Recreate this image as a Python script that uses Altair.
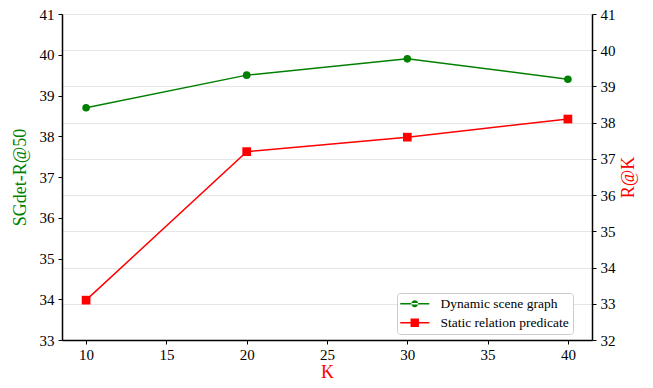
import altair as alt
import pandas as pd

K = [10, 20, 30, 40]
dynamic = [38.7, 39.5, 39.9, 39.4]
static = [33.1, 37.2, 37.6, 38.1]
series_names = ["Dynamic scene graph", "Static relation predicate"]
x_ticks = [10, 15, 20, 25, 30, 35, 40]
left_ticks = [33, 34, 35, 36, 37, 38, 39, 40, 41]
right_ticks = [32, 33, 34, 35, 36, 37, 38, 39, 40, 41]

GREEN = "#008000"
RED = "#ff0000"
FONT = "Liberation Serif"

W, H = 530, 326

df_dyn = pd.DataFrame({"K": K, "v": dynamic})
df_sta = pd.DataFrame({"K": K, "v": static})
df_leg = pd.DataFrame({"K": K[:2], "v": dynamic[:2], "series": series_names})

xenc = alt.X("K:Q", scale=alt.Scale(domain=[8.5, 41.5], nice=False, zero=False),
             axis=alt.Axis(values=x_ticks, title="K", titleColor=RED, titleFontSize=18,
                           titleFont=FONT, titleFontWeight="normal",
                           titleX=W / 2, titleY=37, titleBaseline="alphabetic",
                           labelFont=FONT, labelFontSize=15, labelColor="black",
                           tickColor="black", tickSize=4, domainColor="black",
                           domainWidth=1.5, grid=False, labelPadding=3))

yleft = alt.Y("v:Q", scale=alt.Scale(domain=[33, 41], nice=False, zero=False),
              axis=alt.Axis(values=left_ticks, orient="left", title="SGdet-R@50",
                            titleColor=GREEN, titleFontSize=18, titleFont=FONT,
                            titleFontWeight="normal", titleX=-42, titleY=H / 2,
                            titleBaseline="middle", titleAngle=270,
                            labelFont=FONT, labelFontSize=15, labelColor="black",
                            tickColor="black", tickSize=4, domainColor="black",
                            domainWidth=1.5, grid=False, labelPadding=4))

yright = alt.Y("v:Q", scale=alt.Scale(domain=[32, 41], nice=False, zero=False),
               axis=alt.Axis(values=right_ticks, orient="right", title="R@K",
                             titleColor=RED, titleFontSize=18, titleFont=FONT,
                             titleFontWeight="normal", titleX=36, titleY=H / 2,
                             titleBaseline="middle", titleAngle=270,
                             labelFont=FONT, labelFontSize=15, labelColor="black",
                             tickColor="black", tickSize=4, domainColor="black",
                             domainWidth=1.5, grid=True, gridColor="#e6e6e6",
                             gridWidth=1, labelPadding=4))

dyn_line = alt.Chart(df_dyn).mark_line(color=GREEN, strokeWidth=1.5).encode(x=xenc, y=yleft)
dyn_pts = alt.Chart(df_dyn).mark_point(color=GREEN, filled=True, opacity=1, size=58,
                                       shape="circle").encode(x=xenc, y=yleft)

unit = 6.5
def u(px):
    return round(px / unit, 3)
shift = u(7)
half = u(14.5)
th = u(0.75)
r = u(3.4)
sq = u(4.2)
line_path = f"M{shift - half},{-th}H{shift + half}V{th}H{shift - half}Z"
circle_path = (f"M{shift - r},0A{r},{r} 0 1,0 {shift + r},0"
               f"A{r},{r} 0 1,0 {shift - r},0Z")
square_path = f"M{shift - sq},{-sq}H{shift + sq}V{sq}H{shift - sq}Z"

legend_opts = dict(title=None, orient="none", legendX=335, legendY=279,
                   symbolOpacity=1, symbolStrokeWidth=0,
                   symbolSize=unit * unit * 4, labelFont=FONT,
                   labelFontSize=13.5, labelColor="black",
                   labelOffset=26, padding=4, rowPadding=4,
                   fillColor="white", strokeColor="#cccccc",
                   cornerRadius=3)

leg = alt.Chart(df_leg).mark_point(filled=True, opacity=0).encode(
    x=xenc, y=yleft,
    color=alt.Color("series:N", scale=alt.Scale(domain=series_names, range=[GREEN, RED]),
                    legend=alt.Legend(**legend_opts)),
    shape=alt.Shape("series:N", scale=alt.Scale(domain=series_names,
                                                 range=[line_path + circle_path,
                                                        line_path + square_path]),
                    legend=alt.Legend(**legend_opts)),
)

left_layer = alt.layer(dyn_line, dyn_pts, leg)

sta_line = alt.Chart(df_sta).mark_line(color=RED, strokeWidth=1.5).encode(x=xenc, y=yright)
sta_pts = alt.Chart(df_sta).mark_point(color=RED, filled=True, opacity=1, size=76,
                                       shape="square").encode(x=xenc, y=yright)
right_layer = alt.layer(sta_line, sta_pts)

chart = alt.layer(right_layer, left_layer).resolve_scale(y="independent").properties(
    width=W, height=H,
    autosize=alt.AutoSizeParams(type="none"),
    padding={"left": 54, "top": 6, "right": 53, "bottom": 40},
).configure_view(stroke="#333333", strokeWidth=1.5).configure(background="white")

chart.save("out.html", embed_options={"renderer": "svg", "actions": False})
